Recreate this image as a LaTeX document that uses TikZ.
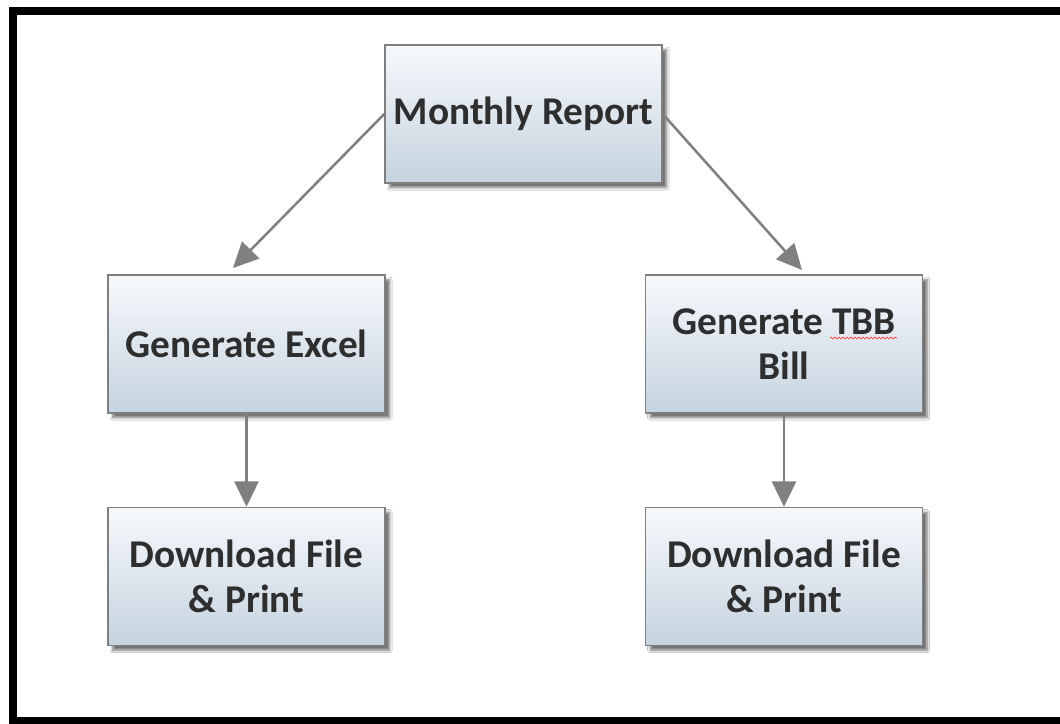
\documentclass[tikz,border=0pt]{standalone}
\usepackage{fontspec}
\setmainfont{Carlito}
\usetikzlibrary{arrows.meta,shadows.blur,decorations.pathmorphing}
\definecolor{boxtop}{HTML}{F6F9FB}
\definecolor{boxbot}{HTML}{C5D3E0}
\definecolor{boxline}{HTML}{7F7F7F}
\definecolor{arrowgray}{HTML}{808080}
\definecolor{txt}{HTML}{2E2E2E}
\tikzset{
  flowbox/.style={rectangle, draw=boxline, line width=1.1pt,
    top color=boxtop, bottom color=boxbot,
    minimum width=207.75pt, minimum height=103.5pt, inner sep=0pt,
    align=center, text=txt,
    font=\fontsize{29.5}{34}\selectfont\bfseries,
    blur shadow={shadow xshift=3.5pt, shadow yshift=-3.5pt, shadow opacity=55, shadow blur steps=6}},
  flowarrow/.style={draw=arrowgray, line width=1.9pt,
    -{Triangle[length=19pt,width=18pt]}, arrowgray},
  frameline/.style={black, line width=6pt}
}
\begin{document}
\begin{tikzpicture}[x=0.75pt,y=-0.75pt]
\useasboundingbox (0,0) rectangle (1060,724);
\fill[white] (0,0) rectangle (1060,724);
\coordinate (f1) at (1060,11);
\coordinate (f2) at (13,11);
\coordinate (f3) at (13,720.5);
\coordinate (f4) at (1060,720.5);
\draw[frameline] (f1) -- (f2) -- (f3) -- (f4);
\node[flowbox] (mr) at (523.5,114) {Monthly Report};
\node[flowbox] (ge) at (246.5,344) {Generate Excel};
\node[flowbox] (gt) at (784,344) {Generate TBB\\Bill};
\node[flowbox] (dl) at (246.5,576.5) {Download File\\\& Print};
\node[flowbox] (dr) at (784,576.5) {Download File\\\& Print};
\coordinate (tl) at (233,268);
\coordinate (tr) at (802,270);
\draw[flowarrow] (mr.west) -- (tl);
\draw[flowarrow] (mr.east) -- (tr);
\draw[flowarrow] (ge.south) -- (dl.north);
\draw[flowarrow] (gt.south) -- (dr.north);
\draw[red!80, line width=0.5pt, decorate, decoration={snake, amplitude=0.6pt, segment length=3pt}] (830,338) -- (897,338);
\end{tikzpicture}
\end{document}
